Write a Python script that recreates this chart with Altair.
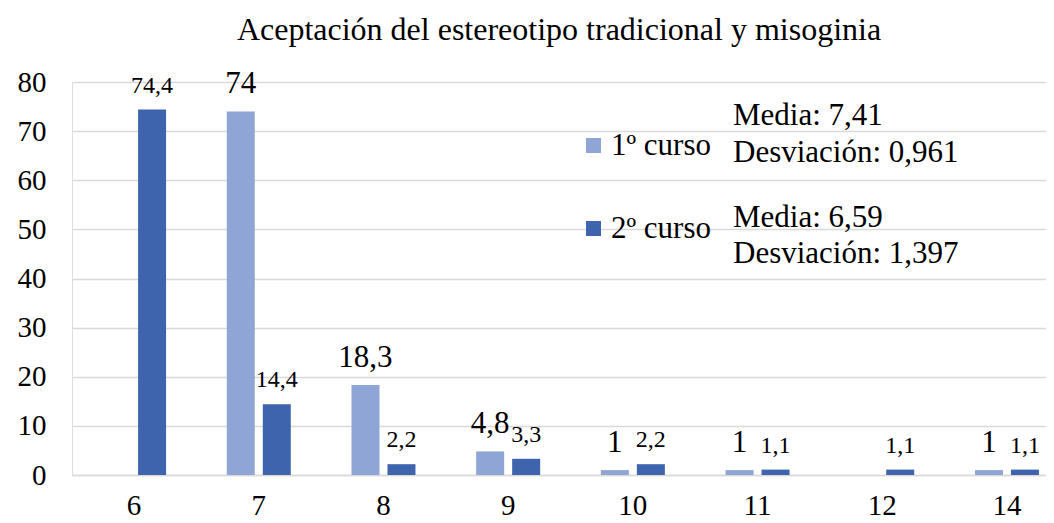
import altair as alt
import pandas as pd

CATEGORIAS = ["6", "7", "8", "9", "10", "11", "12", "14"]
SERIES = ["1º curso", "2º curso"]
CURSO_1 = [None, 74, 18.3, 4.8, 1, 1, None, 1]
CURSO_2 = [74.4, 14.4, 2.2, 3.3, 2.2, 1.1, 1.1, 1.1]
COLORES = ["#8FA5D5", "#3D64AD"]
Y_TICKS = [0, 10, 20, 30, 40, 50, 60, 70, 80]
TITULO = "Aceptación del estereotipo tradicional y misoginia"
STATS_1 = ["Media: 7,41", "Desviación: 0,961"]
STATS_2 = ["Media: 6,59", "Desviación: 1,397"]

FONT = "Liberation Serif, 'Times New Roman', Times, serif"


def fmt(v):
    return f"{v:g}".replace(".", ",")


rows = []
for serie, vals in zip(SERIES, [CURSO_1, CURSO_2]):
    for c, v in zip(CATEGORIAS, vals):
        if v is None:
            continue
        rows.append({"cat": c, "serie": serie, "valor": v, "etiqueta": fmt(v)})
df = pd.DataFrame(rows)

W, H = 974, 393

x_enc = alt.X(
    "cat:N",
    sort=CATEGORIAS,
    scale=alt.Scale(domain=CATEGORIAS, paddingInner=0.4868, paddingOuter=0.149, align=0.81),
    axis=alt.Axis(
        title=None, labelAngle=0, ticks=False, labelFont=FONT, labelFontSize=29,
        labelColor="#000000", labelPadding=16, domainColor="#D9D9D9", domainWidth=1.5,
        grid=False,
    ),
)
xoff_enc = alt.XOffset(
    "serie:N", scale=alt.Scale(domain=SERIES, paddingInner=0.222, paddingOuter=0)
)
y_scale = alt.Scale(domain=[0, 80], nice=False)

bars = alt.Chart(df).mark_bar().encode(
    x=x_enc,
    xOffset=xoff_enc,
    y=alt.Y(
        "valor:Q",
        scale=y_scale,
        axis=alt.Axis(
            title=None, values=Y_TICKS, ticks=False, domain=False, labelFont=FONT,
            labelFontSize=29, labelColor="#000000", labelPadding=26,
            gridColor="#D9D9D9", gridWidth=1.5,
        ),
    ),
    color=alt.Color(
        "serie:N",
        scale=alt.Scale(domain=SERIES, range=COLORES),
        legend=alt.Legend(
            title=None, orient="none", legendX=506, legendY=48, symbolType="square",
            symbolSize=225, symbolStrokeWidth=0, labelFont=FONT, labelFontSize=31,
            labelColor="#000000", rowPadding=51, labelOffset=2, padding=0,
            direction="vertical",
        ),
    ),
)

lab1 = alt.Chart(df[df.serie == SERIES[0]]).mark_text(
    font=FONT, fontSize=31, color="#000000", baseline="alphabetic", dy=-18
).encode(x=x_enc, xOffset=xoff_enc, y=alt.Y("valor:Q", scale=y_scale), text="etiqueta:N")

lab2 = alt.Chart(df[df.serie == SERIES[1]]).mark_text(
    font=FONT, fontSize=24, color="#000000", baseline="alphabetic", dy=-17
).encode(x=x_enc, xOffset=xoff_enc, y=alt.Y("valor:Q", scale=y_scale), text="etiqueta:N")

stats_layers = []
stats_y = [43, 80, 145, 181]
for txt, yy in zip(STATS_1 + STATS_2, stats_y):
    stats_layers.append(
        alt.Chart(pd.DataFrame({"t": [txt]})).mark_text(
            font=FONT, fontSize=31, color="#000000", align="left", baseline="alphabetic"
        ).encode(x=alt.value(661), y=alt.value(yy), text="t:N")
    )

chart = alt.layer(bars, lab1, lab2, *stats_layers).properties(
    width=W,
    height=H,
    title=alt.TitleParams(
        TITULO, font=FONT, fontSize=32, fontWeight="normal", color="#000000",
        anchor="middle", frame="group", offset=21,
    ),
    autosize=alt.AutoSizeParams(type="none"),
    padding={"left": 64, "top": 74, "right": 0, "bottom": 48},
).configure_view(stroke=None).configure(background="#ffffff")

chart.save("out.html", embed_options={"renderer": "svg", "actions": False})
